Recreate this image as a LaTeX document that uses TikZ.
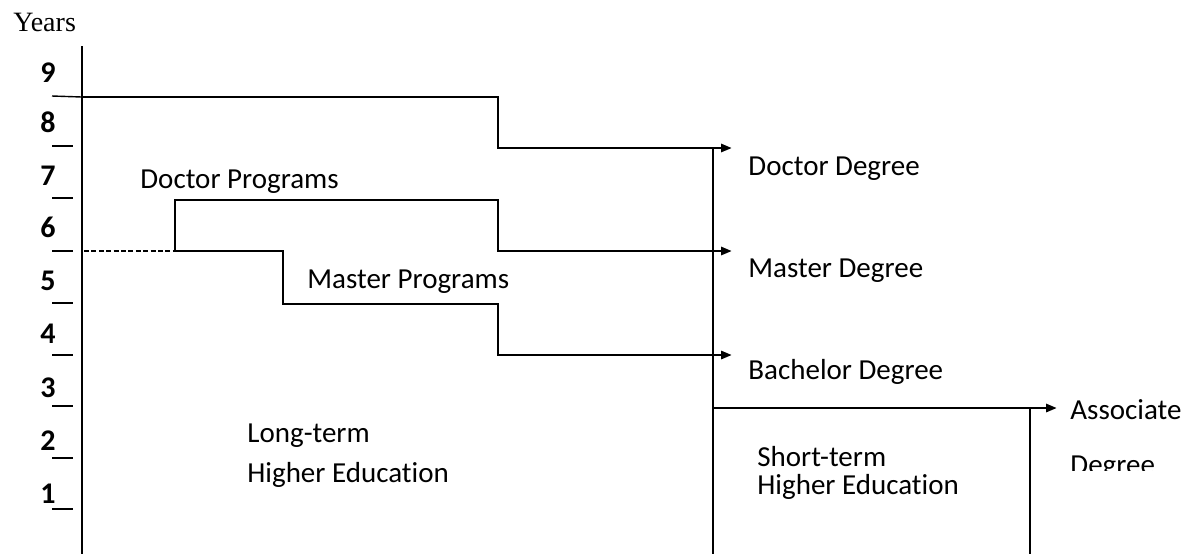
\documentclass[tikz,border=0pt]{standalone}
\usepackage{fontspec}
\setmainfont[Ligatures=NoCommon]{Carlito}
\newfontfamily\timesf{Liberation Serif}
\usetikzlibrary{arrows.meta}
\begin{document}
\begin{tikzpicture}[x=0.5pt,y=-0.5pt,
  conn/.style={line width=1.4pt},
  tickmark/.style={line width=0.7pt},
  dashline/.style={line width=0.7pt,dash pattern=on 2.5pt off 1.2pt},
  tiparrow/.style={-{Triangle[length=5.5pt,width=4pt]}},
  lbl/.style={anchor=base west,inner sep=0pt,font=\fontsize{14.5}{17}\selectfont},
  num/.style={anchor=base west,inner sep=0pt,font=\fontsize{15}{17}\selectfont\bfseries}]
\useasboundingbox (0,0) rectangle (1186,554);

% Axis title
\node[anchor=base west,inner sep=0pt,font=\timesf\fontsize{14}{16}\selectfont] (years) at (13,31) {Years};

% Axis
\coordinate (axT) at (82,46);
\coordinate (axB) at (82,554);
\draw[conn] (axT) -- (axB);

% Year numbers
\node[num] (n9) at (40,82) {9};
\node[num] (n8) at (40,132) {8};
\node[num] (n7) at (40,185) {7};
\node[num] (n6) at (40,237) {6};
\node[num] (n5) at (40,290) {5};
\node[num] (n4) at (40,343) {4};
\node[num] (n3) at (40,397) {3};
\node[num] (n2) at (40,450) {2};
\node[num] (n1) at (40,503) {1};

% Tick marks
\foreach \ty in {146,198,251,303,355,406,458,509}
  \draw[tickmark] (52,\ty) -- (73,\ty);

% Doctor degree path
\coordinate (t9) at (52,96);
\coordinate (t9b) at (82,97);
\coordinate (dStep) at (498,97);
\coordinate (dTip) at (732,148);
\draw[tickmark] (t9) -- (t9b);
\draw[conn,tiparrow] (t9b) -- (dStep) |- (dTip);

% Doctor programs box / master degree path
\coordinate (mL) at (175,251);
\coordinate (mTopL) at (175,200);
\coordinate (mStep) at (498,200);
\coordinate (mTip) at (732,251);
\draw[conn,tiparrow] (mL) -- (mTopL) -- (mStep) |- (mTip);
\draw[dashline] (84,251) -- (mL);

% Master programs / bachelor degree path
\coordinate (bStepA) at (283,251);
\coordinate (bStepB) at (498,304);
\coordinate (bTip) at (732,355);
\draw[conn,tiparrow] (mL) -- (bStepA) |- (bStepB) |- (bTip);

% Right vertical (degrees)
\coordinate (rvT) at (713,148);
\coordinate (rvB) at (713,554);
\draw[conn] (rvT) -- (rvB);

% Associate degree
\coordinate (aL) at (713,408);
\coordinate (aTip) at (1057,408);
\draw[conn,tiparrow] (aL) -- (aTip);
\coordinate (svT) at (1030,408);
\coordinate (svB) at (1030,554);
\draw[conn] (svT) -- (svB);

% Labels
\node[lbl] (docprog) at (140,188) {Doctor Programs};
\node[lbl] (masprog) at (307,288) {Master Programs};
\node[lbl] (longa) at (247,442) {Long-term};
\node[lbl] (longb) at (247,482) {Higher Education};
\node[lbl] (docdeg) at (748,175) {Doctor Degree};
\node[lbl] (masdeg) at (748,277) {Master Degree};
\node[lbl] (bacdeg) at (748,379) {Bachelor Degree};
\node[lbl] (shorta) at (757,466) {Short-term};
\node[lbl] (shortb) at (757,494) {Higher Education};
\node[lbl] (assoc) at (1070,419) {Associate};
\begin{scope}
  \clip (1060,440) rectangle (1186,470);
  \node[lbl] (assocdeg) at (1070,474) {Degree};
\end{scope}
\end{tikzpicture}
\end{document}
